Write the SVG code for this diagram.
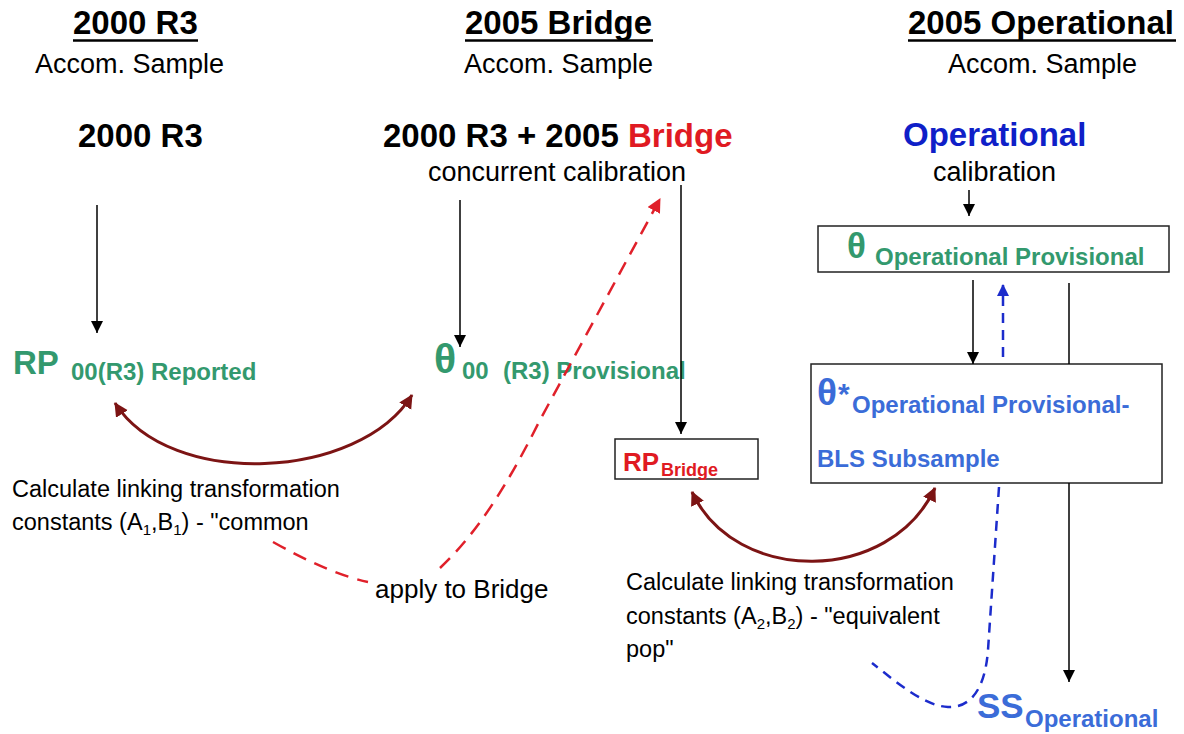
<svg xmlns="http://www.w3.org/2000/svg" width="1184" height="734" viewBox="0 0 1184 734">
  <style>
    text { font-family: "Liberation Sans", Arial, sans-serif; }
    .hdr { font-size: 33px; font-weight: bold; fill: #000; }
    .sub { font-size: 27px; fill: #000; }
    .big { font-size: 33px; font-weight: bold; }
    .note { font-size: 23.5px; fill: #000; }
    .green { fill: #33996e; }
    .blue { fill: #0f1fc8; }
    .lblue { fill: #3b6cd8; }
    .red { fill: #e01a22; }
    .sm { font-size: 24px; font-weight: bold; }
    .theta { font-family: "Liberation Sans", "DejaVu Sans", sans-serif; font-weight: bold; }
    .box { fill: #fff; stroke: #222; stroke-width: 1.5; }
    .arrow { fill: none; stroke: #000; stroke-width: 1.5; }
    .link { fill: none; stroke: #7c1414; stroke-width: 3; }
    .rdash { fill: none; stroke: #e0202a; stroke-width: 2.5; stroke-dasharray: 14 9; }
    .bdash { fill: none; stroke: #1c2ccc; stroke-width: 2.5; stroke-dasharray: 10 7; }
    .rule { stroke: #000; stroke-width: 2.5; }
  </style>
  <defs>
    <marker id="blk" markerUnits="userSpaceOnUse" markerWidth="14" markerHeight="14" refX="12" refY="6" orient="auto">
      <path d="M0,0 L12,6 L0,12 Z" fill="#000"/>
    </marker>
    <marker id="dred" markerUnits="userSpaceOnUse" markerWidth="16" markerHeight="16" refX="13" refY="7" orient="auto-start-reverse">
      <path d="M0,0 L14,7 L0,14 Z" fill="#7c1414"/>
    </marker>
    <marker id="rhd" markerUnits="userSpaceOnUse" markerWidth="16" markerHeight="16" refX="13" refY="7" orient="auto">
      <path d="M0,0 L14,7 L0,14 Z" fill="#e0202a"/>
    </marker>
    <marker id="bhd" markerUnits="userSpaceOnUse" markerWidth="14" markerHeight="14" refX="11" refY="6" orient="auto">
      <path d="M0,0 L12,6 L0,12 Z" fill="#1c2ccc"/>
    </marker>
  </defs>

  <rect width="1184" height="734" fill="#fff"/>

  <!-- column headings -->
  <g id="head-2000">
    <text class="hdr" x="73" y="34">2000 R3</text>
    <line class="rule" x1="73" y1="40.5" x2="198" y2="40.5"/>
    <text class="sub" x="35" y="73">Accom. Sample</text>
  </g>
  <g id="head-bridge">
    <text class="hdr" x="465" y="34">2005 Bridge</text>
    <line class="rule" x1="465" y1="40.5" x2="653" y2="40.5"/>
    <text class="sub" x="464" y="73">Accom. Sample</text>
  </g>
  <g id="head-operational">
    <text class="hdr" x="908" y="34">2005 Operational</text>
    <line class="rule" x1="908" y1="40.5" x2="1176" y2="40.5"/>
    <text class="sub" x="948" y="73">Accom. Sample</text>
  </g>

  <!-- calibration sources -->
  <g id="src-2000">
    <text class="big" x="78" y="147" fill="#000">2000 R3</text>
  </g>
  <g id="src-concurrent">
    <text class="big" x="383" y="147" fill="#000">2000 R3 + 2005 <tspan class="red">Bridge</tspan></text>
    <text class="sub" x="428" y="181">concurrent calibration</text>
  </g>
  <g id="src-operational">
    <text class="big blue" x="903" y="146">Operational</text>
    <text class="sub" x="933" y="181">calibration</text>
  </g>

  <!-- estimates -->
  <g id="rp-reported">
    <text class="big green" x="13" y="374" font-size="34">RP</text>
    <text class="sm green" x="71" y="380">00(R3) Reported</text>
  </g>
  <g id="theta-provisional">
    <text class="theta green" x="434" y="373" font-size="41">θ</text>
    <text class="sm green" y="379"><tspan x="462">00</tspan><tspan x="503">(R3) Provisional</tspan></text>
  </g>
  <g id="rp-bridge">
    <rect class="box" x="615" y="439" width="143" height="40"/>
    <text class="red" x="623" y="471" font-size="26" font-weight="bold">RP</text>
    <text class="red" x="661" y="476" font-size="18" font-weight="bold">Bridge</text>
  </g>
  <g id="theta-op-provisional">
    <rect class="box" x="818" y="226" width="351" height="46"/>
    <text class="theta green" x="847" y="258" font-size="35">θ</text>
    <text class="sm green" x="875" y="265">Operational Provisional</text>
  </g>
  <g id="theta-star-bls">
    <rect class="box" x="811" y="364" width="351" height="119"/>
    <text class="theta lblue" x="817" y="405" font-size="37">θ</text>
    <text class="lblue" x="838" y="404" font-size="30" font-weight="bold">*</text>
    <text class="sm lblue" x="852" y="413">Operational Provisional-</text>
    <text class="sm lblue" x="817" y="467">BLS Subsample</text>
  </g>
  <g id="ss-operational">
    <text class="lblue" x="977" y="718" font-size="35" font-weight="bold">SS</text>
    <text class="sm lblue" x="1025" y="727">Operational</text>
  </g>

  <!-- explanatory labels -->
  <g id="note-common">
    <text class="note" x="12" y="497">Calculate linking transformation</text>
    <text class="note" x="12" y="530">constants (A<tspan font-size="15" dy="5">1</tspan><tspan dy="-5">,B</tspan><tspan font-size="15" dy="5">1</tspan><tspan dy="-5">) - "common</tspan></text>
  </g>
  <g id="note-apply">
    <text x="375" y="598" font-size="26" fill="#000">apply to Bridge</text>
  </g>
  <g id="note-equivalent">
    <text class="note" x="626" y="590">Calculate linking transformation</text>
    <text class="note" x="626" y="624">constants (A<tspan font-size="15" dy="5">2</tspan><tspan dy="-5">,B</tspan><tspan font-size="15" dy="5">2</tspan><tspan dy="-5">) - "equivalent</tspan></text>
    <text class="note" x="626" y="657">pop"</text>
  </g>

  <!-- connectors -->
  <g id="connectors">
    <line class="arrow" x1="97" y1="205" x2="97" y2="333" marker-end="url(#blk)"/>
    <line class="arrow" x1="460" y1="200" x2="460" y2="347" marker-end="url(#blk)"/>
    <line class="arrow" x1="681" y1="185" x2="681" y2="434" marker-end="url(#blk)"/>
    <line class="arrow" x1="969" y1="190" x2="969" y2="216" marker-end="url(#blk)"/>
    <line class="arrow" x1="973" y1="280" x2="973" y2="364" marker-end="url(#blk)"/>
    <line class="arrow" x1="1069" y1="283" x2="1069" y2="364"/>
    <line class="arrow" x1="1069" y1="483" x2="1069" y2="682" marker-end="url(#blk)"/>

    <path class="link" d="M115,403 C170,490 360,480 412,395" marker-start="url(#dred)" marker-end="url(#dred)"/>
    <path class="link" d="M692,492 C735,585 890,585 935,488" marker-start="url(#dred)" marker-end="url(#dred)"/>

    <path class="rdash" d="M273,542 Q330,574 368,582"/>
    <path class="rdash" d="M440,568 C475,535 505,490 540,420 L660,199" marker-end="url(#rhd)"/>

    <path class="bdash" d="M999,487 L988,650 C985,690 970,708 948,707 C925,706 900,685 872,663"/>
    <line class="bdash" x1="1003" y1="357" x2="1003" y2="285" marker-end="url(#bhd)"/>
  </g>
</svg>
